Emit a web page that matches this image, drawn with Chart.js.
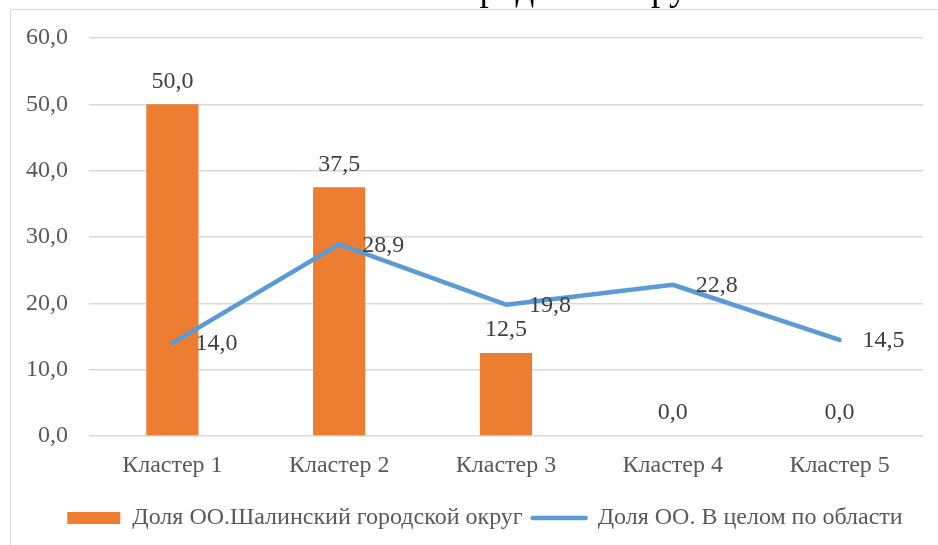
<!DOCTYPE html>
<html>
<head>
<meta charset="utf-8">
<script src="https://cdn.jsdelivr.net/npm/chart.js@4/dist/chart.umd.min.js"></script>
<style>
  html, body { margin: 0; padding: 0; background: #ffffff; overflow: hidden; }
  #wrap { position: absolute; left: 0; top: 0; width: 970px; height: 570px; }
</style>
</head>
<body>
<div id="wrap"><canvas id="chart" width="970" height="570"></canvas></div>
<script>
// Categories and series
const categories = ['Кластер 1', 'Кластер 2', 'Кластер 3', 'Кластер 4', 'Кластер 5'];
const districtShare = [50.0, 37.5, 12.5, 0.0, 0.0];
const regionShare = [14.0, 28.9, 19.8, 22.8, 14.5];
const seriesNames = ['Доля ОО.Шалинский городской округ', 'Доля ОО. В целом по области'];
const titleText = 'Шалинский городской округ';

const ORANGE = '#ED7D31';
const BLUE = '#5B9BD5';
const FONT = '"Liberation Serif", "Times New Roman", serif';
const FS = 24;

const fmt = v => v.toFixed(1).replace('.', ',');

// Outer frame and the title line above the plot
const framePlugin = {
  id: 'frame',
  beforeDraw(chart) {
    const ctx = chart.ctx;
    ctx.save();
    ctx.fillStyle = '#ffffff';
    ctx.fillRect(0, 0, chart.width, chart.height);
    ctx.strokeStyle = '#d9d9d9';
    ctx.lineWidth = 1;
    ctx.beginPath();
    ctx.moveTo(10.5, chart.height + 5);
    ctx.lineTo(10.5, 9.5);
    ctx.lineTo(chart.width + 5, 9.5);
    ctx.stroke();
    ctx.restore();
  },
  afterDraw(chart) {
    const ctx = chart.ctx;
    ctx.save();
    ctx.font = '37px ' + FONT;
    ctx.fillStyle = '#000000';
    ctx.textAlign = 'center';
    ctx.textBaseline = 'alphabetic';
    ctx.fillText(titleText, chart.width / 2 - 8, 0);
    ctx.restore();
  }
};

// Value labels: above bars, to the right of line points
const valueLabels = {
  id: 'valueLabels',
  afterDatasetsDraw(chart) {
    const ctx = chart.ctx;
    ctx.save();
    ctx.font = FS + 'px ' + FONT;
    ctx.fillStyle = '#404040';
    ctx.textBaseline = 'middle';
    const barMeta = chart.getDatasetMeta(0);
    barMeta.data.forEach((el, i) => {
      ctx.textAlign = 'center';
      ctx.fillText(fmt(districtShare[i]), el.x, el.y - 23);
    });
    const lineMeta = chart.getDatasetMeta(1);
    lineMeta.data.forEach((el, i) => {
      ctx.textAlign = 'left';
      ctx.fillText(fmt(regionShare[i]), el.x + 23, el.y + 1);
    });
    ctx.restore();
  }
};

new Chart(document.getElementById('chart'), {
  data: {
    labels: categories,
    datasets: [
      {
        type: 'bar',
        label: seriesNames[0],
        data: districtShare,
        backgroundColor: ORANGE,
        borderWidth: 0,
        categoryPercentage: 1.0,
        barPercentage: 0.313,
        order: 1
      },
      {
        type: 'line',
        label: seriesNames[1],
        data: regionShare,
        borderColor: BLUE,
        borderWidth: 4.5,
        borderCapStyle: 'round',
        borderJoinStyle: 'round',
        pointRadius: 0,
        pointHoverRadius: 0,
        tension: 0,
        fill: false,
        order: 0
      }
    ]
  },
  options: {
    responsive: false,
    animation: false,
    devicePixelRatio: 1,
    layout: { padding: { left: 0, right: 0, top: 38, bottom: 30 } },
    scales: {
      x: {
        grid: { display: false, drawTicks: false },
        border: { display: false },
        ticks: {
          padding: 15.6,
          color: '#595959',
          font: { family: FONT, size: FS }
        }
      },
      y: {
        min: 0,
        max: 60,
        grid: { color: '#d9d9d9', lineWidth: 1.5, drawTicks: false },
        border: { display: false },
        ticks: {
          stepSize: 10,
          padding: 21,
          color: '#595959',
          font: { family: FONT, size: FS },
          callback: v => fmt(v)
        },
        afterFit(scale) { scale.width = 89; }
      },
      // empty right-hand margin of the plot
      yRight: {
        position: 'right',
        min: 0,
        max: 60,
        grid: { display: false, drawTicks: false },
        border: { display: false },
        ticks: { display: false },
        afterFit(scale) { scale.width = 47; }
      }
    },
    plugins: {
      tooltip: { enabled: false },
      title: { display: false },
      legend: {
        position: 'bottom',
        labels: {
          usePointStyle: true,
          pointStyleWidth: 53,
          boxHeight: 12,
          padding: 10,
          color: '#595959',
          font: { family: FONT, size: FS },
          generateLabels(chart) {
            return [
              {
                text: seriesNames[0],
                pointStyle: 'rect',
                fillStyle: ORANGE,
                strokeStyle: ORANGE,
                lineWidth: 0,
                fontColor: '#595959',
                datasetIndex: 0,
                hidden: false
              },
              {
                text: seriesNames[1],
                pointStyle: 'line',
                fillStyle: BLUE,
                strokeStyle: BLUE,
                lineWidth: 4.5,
                lineCap: 'round',
                fontColor: '#595959',
                datasetIndex: 1,
                hidden: false
              }
            ];
          }
        }
      }
    }
  },
  plugins: [framePlugin, valueLabels]
});
</script>
</body>
</html>
